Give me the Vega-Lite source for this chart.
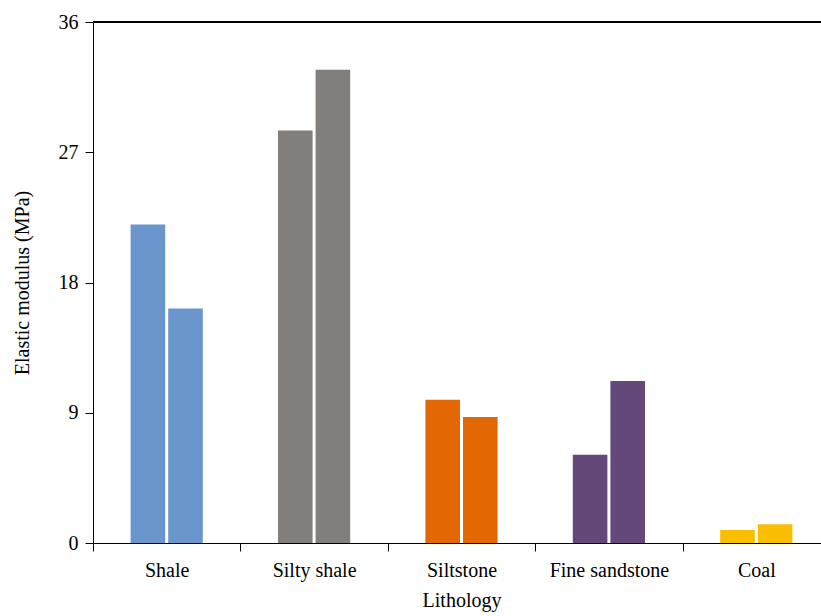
{
  "$schema": "https://vega.github.io/schema/vega-lite/v6.json",
  "width": 737,
  "height": 521,
  "autosize": "none",
  "padding": {"left": 93, "top": 22, "right": 0, "bottom": 73},
  "background": "white",
  "config": {
    "view": {"stroke": null},
    "font": "Liberation Serif",
    "axis": {"labelFont": "Liberation Serif", "titleFont": "Liberation Serif", "labelFontSize": 20, "titleFontSize": 20, "titleFontWeight": "normal", "labelColor": "black", "titleColor": "black", "domainColor": "black", "tickColor": "black", "tickSize": 8, "grid": false}
  },
  "data": {
    "values": [
      {"lithology": "Shale", "sample": "A", "modulus": 22.0},
      {"lithology": "Shale", "sample": "B", "modulus": 16.2},
      {"lithology": "Silty shale", "sample": "A", "modulus": 28.5},
      {"lithology": "Silty shale", "sample": "B", "modulus": 32.7},
      {"lithology": "Siltstone", "sample": "A", "modulus": 9.9},
      {"lithology": "Siltstone", "sample": "B", "modulus": 8.7},
      {"lithology": "Fine sandstone", "sample": "A", "modulus": 6.1},
      {"lithology": "Fine sandstone", "sample": "B", "modulus": 11.2},
      {"lithology": "Coal", "sample": "A", "modulus": 0.9},
      {"lithology": "Coal", "sample": "B", "modulus": 1.3}
    ]
  },
  "layer": [
    {
      "mark": {"type": "bar"},
      "encoding": {
        "x": {
          "field": "lithology", "type": "nominal",
          "sort": ["Shale", "Silty shale", "Siltstone", "Fine sandstone", "Coal"],
          "scale": {"paddingInner": 0, "paddingOuter": 0},
          "axis": {"title": "Lithology", "labelAngle": 0, "tickBand": "extent", "labelPadding": 9, "titlePadding": 10}
        },
        "xOffset": {
          "field": "sample", "type": "nominal",
          "scale": {"paddingInner": 0.08, "paddingOuter": 1.0}
        },
        "y": {
          "field": "modulus", "type": "quantitative",
          "scale": {"domain": [0, 36], "nice": false},
          "axis": {"title": "Elastic modulus (MPa)", "values": [0, 9, 18, 27, 36], "labelPadding": 7, "titlePadding": 26}
        },
        "color": {
          "field": "lithology", "type": "nominal",
          "scale": {
            "domain": ["Shale", "Silty shale", "Siltstone", "Fine sandstone", "Coal"],
            "range": ["#6A96CD", "#827E7B", "#E36703", "#644879", "#F9BE00"]
          },
          "legend": null
        }
      }
    },
    {
      "mark": {"type": "rule", "color": "black", "strokeWidth": 1},
      "encoding": {"y": {"datum": 36}}
    }
  ]
}
